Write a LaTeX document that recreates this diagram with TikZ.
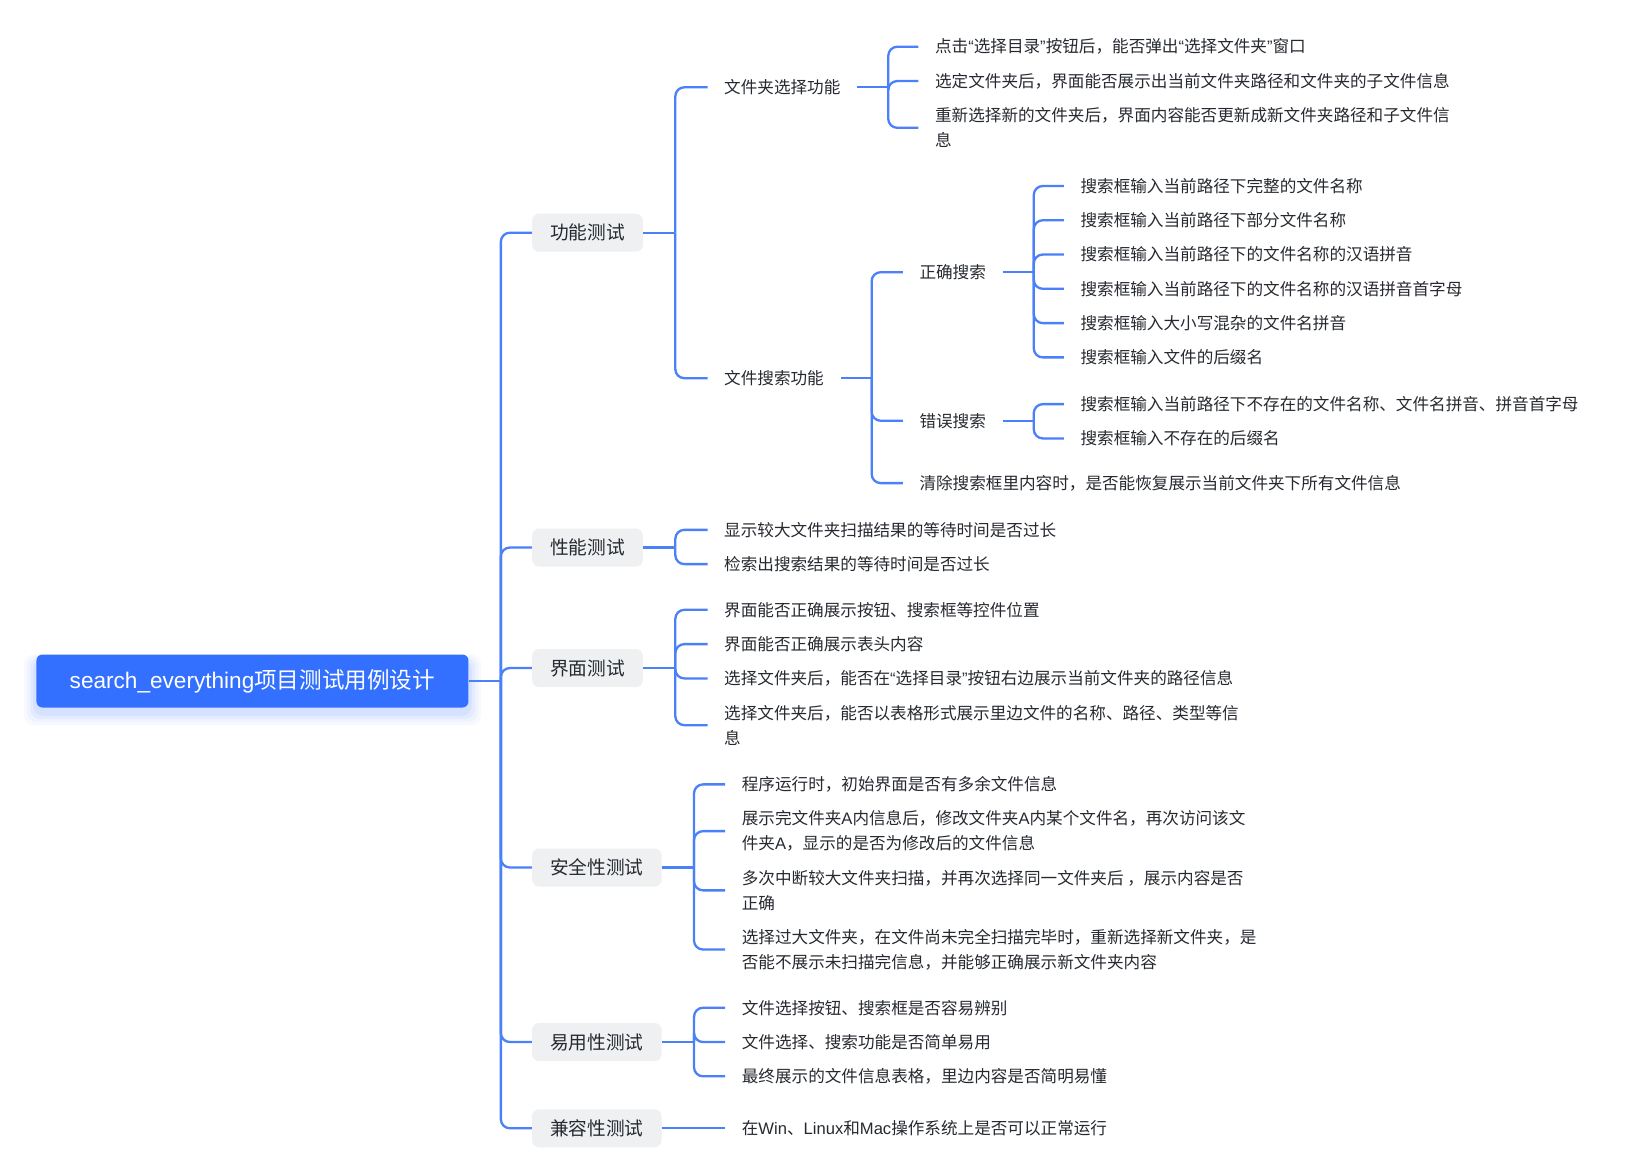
\documentclass[tikz,border=0pt]{standalone}
\usepackage{fontspec}
\setmainfont{Noto Sans CJK SC}
\newfontfamily\latf{Liberation Sans}
\newcommand\myoq{{\latf “}}
\newcommand\mycq{{\latf ”}}
\usetikzlibrary{calc}
\definecolor{lnc}{HTML}{4A80F8}
\definecolor{txt}{HTML}{262A30}
\definecolor{rootc}{HTML}{3370FF}
\definecolor{boxc}{HTML}{EEF0F2}
\begin{document}
\begin{tikzpicture}[x=1.0389pt,y=-1.0389pt,
  leaf/.style={anchor=west, inner xsep=16.5pt, inner ysep=2pt, align=left, text=txt, font=\fontsize{16.6}{25}\selectfont},
  lvlone/.style={anchor=west, fill=boxc, rounded corners=7pt, inner xsep=18pt, minimum height=38pt, text=txt, font=\fontsize{18.7}{22}\selectfont},
  rootbox/.style={fill=rootc, rounded corners=6pt, minimum width=432pt, minimum height=53pt, text=white, font=\fontsize{22.6}{27}\selectfont},
  link/.style={draw=lnc, line width=2.3pt, rounded corners=9pt},
  stub/.style={draw=lnc, line width=2.3pt},
]
\useasboundingbox[fill=white] (0,0) rectangle (1568,1130);

% root shadow
\foreach \e/\o in {12/0.035,9/0.045,6/0.06,3/0.08}{
  \fill[rootc, opacity=\o, rounded corners=10pt] ($(35,636)+(-\e,-\e*0.5)$) rectangle ($(451,686)+(\e,\e)$);
}
\node[rootbox] (root) at (243,655.5) {{\latf search\_everything}项目测试用例设计};

% level one
\node[lvlone] (k1) at (512,224) {功能测试};
\node[lvlone] (k2) at (512,527) {性能测试};
\node[lvlone] (k3) at (512,643) {界面测试};
\node[lvlone] (k4) at (512,835) {安全性测试};
\node[lvlone] (k5) at (512,1003) {易用性测试};
\node[lvlone] (k6) at (512,1086) {兼容性测试};

\coordinate (b0) at ($(root.east)+(31,0)$);
\draw[stub] (root.east) -- (b0);
\foreach \k in {k1,k2,k3,k4,k5,k6}{\draw[link] (b0) |- (\k.west);}

% 功能测试
\node[leaf] (f1) at (681,84) {文件夹选择功能};
\node[leaf] (f2) at (681,364) {文件搜索功能};
\coordinate (b1) at ($(k1.east)+(31,0)$);
\draw[stub] (k1.east) -- (b1);
\foreach \k in {f1,f2}{\draw[link] (b1) |- (\k.west);}

\node[leaf] (f11) at (884,45) {点击\myoq 选择目录\mycq 按钮后，能否弹出\myoq 选择文件夹\mycq 窗口};
\node[leaf] (f12) at (884,78) {选定文件夹后，界面能否展示出当前文件夹路径和文件夹的子文件信息};
\node[leaf] (f13) at (884,123) {重新选择新的文件夹后，界面内容能否更新成新文件夹路径和子文件信\\息};
\coordinate (b11) at ($(f1.east)+(30,0)$);
\draw[stub] (f1.east) -- (b11);
\foreach \k in {f11,f12,f13}{\draw[link] (b11) |- (\k.west);}

\node[leaf] (g1) at (869,262) {正确搜索};
\node[leaf] (g2) at (869,405) {错误搜索};
\node[leaf] (g3) at (869,465) {清除搜索框里内容时，是否能恢复展示当前文件夹下所有文件信息};
\coordinate (b12) at ($(f2.east)+(30,0)$);
\draw[stub] (f2.east) -- (b12);
\foreach \k in {g1,g2,g3}{\draw[link] (b12) |- (\k.west);}

\node[leaf] (g11) at (1024,179) {搜索框输入当前路径下完整的文件名称};
\node[leaf] (g12) at (1024,212) {搜索框输入当前路径下部分文件名称};
\node[leaf] (g13) at (1024,245) {搜索框输入当前路径下的文件名称的汉语拼音};
\node[leaf] (g14) at (1024,278) {搜索框输入当前路径下的文件名称的汉语拼音首字母};
\node[leaf] (g15) at (1024,311) {搜索框输入大小写混杂的文件名拼音};
\node[leaf] (g16) at (1024,344) {搜索框输入文件的后缀名};
\coordinate (b21) at ($(g1.east)+(30,0)$);
\draw[stub] (g1.east) -- (b21);
\foreach \k in {g11,g12,g13,g14,g15,g16}{\draw[link] (b21) |- (\k.west);}

\node[leaf] (g21) at (1024,389) {搜索框输入当前路径下不存在的文件名称、文件名拼音、拼音首字母};
\node[leaf] (g22) at (1024,422) {搜索框输入不存在的后缀名};
\coordinate (b22) at ($(g2.east)+(30,0)$);
\draw[stub] (g2.east) -- (b22);
\foreach \k in {g21,g22}{\draw[link] (b22) |- (\k.west);}

% 性能测试
\node[leaf] (p1) at (681,510) {显示较大文件夹扫描结果的等待时间是否过长};
\node[leaf] (p2) at (681,543) {检索出搜索结果的等待时间是否过长};
\coordinate (b2) at ($(k2.east)+(31,0)$);
\draw[stub] (k2.east) -- (b2);
\foreach \k in {p1,p2}{\draw[link] (b2) |- (\k.west);}

% 界面测试
\node[leaf] (u1) at (681,587) {界面能否正确展示按钮、搜索框等控件位置};
\node[leaf] (u2) at (681,620) {界面能否正确展示表头内容};
\node[leaf] (u3) at (681,653) {选择文件夹后，能否在\myoq 选择目录\mycq 按钮右边展示当前文件夹的路径信息};
\node[leaf] (u4) at (681,698) {选择文件夹后，能否以表格形式展示里边文件的名称、路径、类型等信\\息};
\coordinate (b3) at ($(k3.east)+(31,0)$);
\draw[stub] (k3.east) -- (b3);
\foreach \k in {u1,u2,u3,u4}{\draw[link] (b3) |- (\k.west);}

% 安全性测试
\node[leaf] (s1) at (698,755) {程序运行时，初始界面是否有多余文件信息};
\node[leaf] (s2) at (698,800) {展示完文件夹{\latf A}内信息后，修改文件夹{\latf A}内某个文件名，再次访问该文\\件夹{\latf A}，显示的是否为修改后的文件信息};
\node[leaf] (s3) at (698,857) {多次中断较大文件夹扫描，并再次选择同一文件夹后 ，展示内容是否\\正确};
\node[leaf] (s4) at (698,914) {选择过大文件夹，在文件尚未完全扫描完毕时，重新选择新文件夹，是\\否能不展示未扫描完信息，并能够正确展示新文件夹内容};
\coordinate (b4) at ($(k4.east)+(31,0)$);
\draw[stub] (k4.east) -- (b4);
\foreach \k in {s1,s2,s3,s4}{\draw[link] (b4) |- (\k.west);}

% 易用性测试
\node[leaf] (e1) at (698,970) {文件选择按钮、搜索框是否容易辨别};
\node[leaf] (e2) at (698,1003) {文件选择、搜索功能是否简单易用};
\node[leaf] (e3) at (698,1036) {最终展示的文件信息表格，里边内容是否简明易懂};
\coordinate (b5) at ($(k5.east)+(31,0)$);
\draw[stub] (k5.east) -- (b5);
\foreach \k in {e1,e2,e3}{\draw[link] (b5) |- (\k.west);}

% 兼容性测试
\node[leaf] (c1) at (698,1086) {在{\latf Win}、{\latf Linux}和{\latf Mac}操作系统上是否可以正常运行};
\draw[stub] (k6.east) -- (c1.west);
\end{tikzpicture}
\end{document}
